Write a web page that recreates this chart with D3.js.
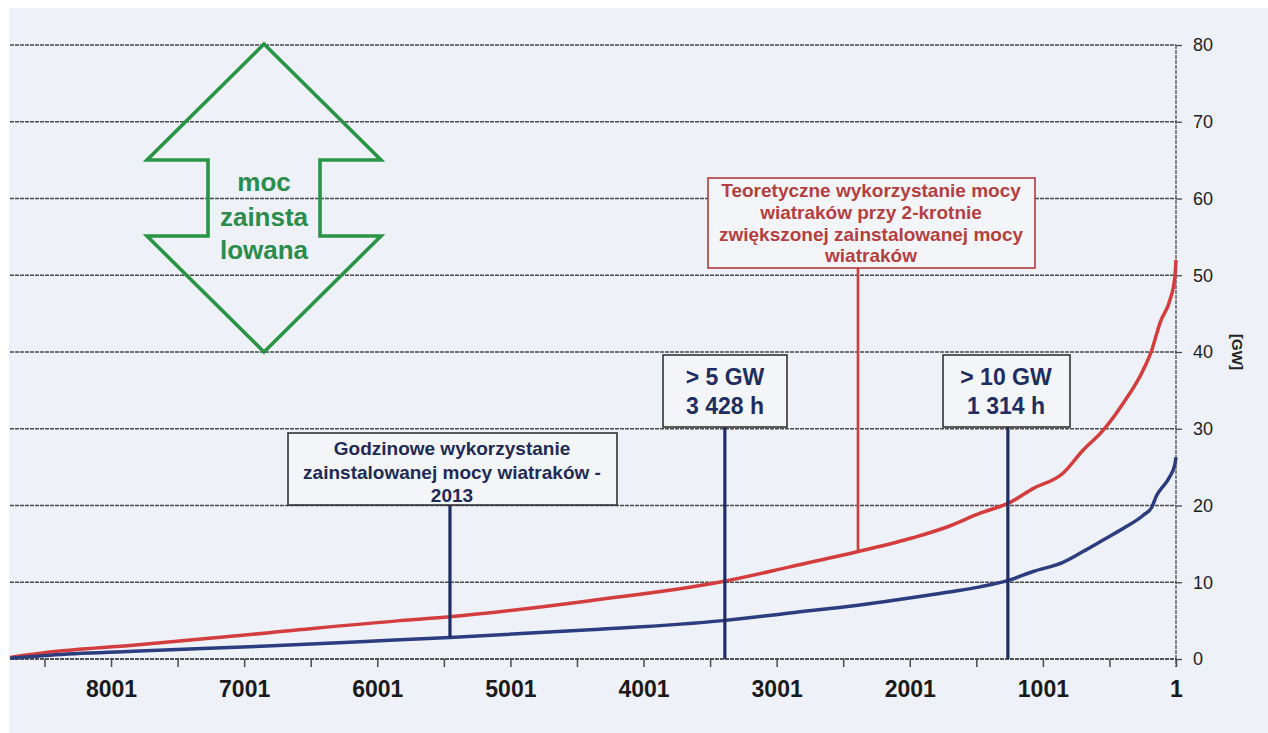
<!DOCTYPE html>
<html>
<head>
<meta charset="utf-8">
<script src="https://cdn.jsdelivr.net/npm/d3@7"></script>
<style>
  html, body { margin: 0; padding: 0; background: #ffffff; }
  svg { display: block; font-family: "Liberation Sans", Arial, sans-serif; }
</style>
</head>
<body>
<svg id="chart" width="1268" height="733"></svg>
<script>
// ---------------- DATA ----------------
// hours of the year (sorted load-duration curve), from 8760 down to 1
const hours = [8760, 8460, 7836, 6829, 5830, 5455, 4403, 3404, 2901, 2390, 1977, 1721, 1473, 1248, 1075, 850, 700, 549, 399, 249, 182, 144, 121, 46, 9, 1];
// actual wind power 2013 [GW]
const windActual = [0.1, 0.5, 1.0, 1.7, 2.5, 2.8, 3.8, 5.0, 6.0, 7.0, 8.0, 8.7, 9.4, 10.3, 11.4, 12.6, 14.0, 15.5, 17.0, 18.7, 19.8, 21.4, 22.0, 23.8, 25.4, 26.3];
// theoretical wind power with doubled installed capacity [GW]
const windDoubled = [0.2, 0.9, 1.8, 3.4, 5.0, 5.5, 7.6, 10.1, 12.0, 14.0, 15.8, 17.2, 19.0, 20.4, 22.2, 24.2, 27.2, 29.8, 33.3, 37.6, 40.3, 42.5, 43.8, 46.8, 49.8, 52.0];

const yTicks = [0, 10, 20, 30, 40, 50, 60, 70, 80];
const xTicks = [8501, 8001, 7501, 7001, 6501, 6001, 5501, 5001, 4501, 4001, 3501, 3001, 2501, 2001, 1501, 1001, 501, 1];
const xTickLabels = [8001, 7001, 6001, 5001, 4001, 3001, 2001, 1001, 1];

const yAxisTitle = "[GW]";
const arrowText = ["moc", "zainsta", "lowana"];
const redBoxText = ["Teoretyczne wykorzystanie mocy", "wiatraków przy 2-krotnie", "zwiększonej zainstalowanej mocy", "wiatraków"];
const blueBoxText = ["Godzinowe wykorzystanie", "zainstalowanej mocy wiatraków -", "2013"];
const box5Text = ["> 5 GW", "3 428 h"];
const box10Text = ["> 10 GW", "1 314 h"];
// hours at which the annotation leader lines are drawn
const leaderHours = { blue: 5455, red: 2390, gw5: 3390, gw10: 1264 };
// value at lower end of leader lines
const leaderEnds = { blue: 2.8, red: 14.0, gw5: 0, gw10: 0 };

// ---------------- LAYOUT ----------------
const W = 1268, H = 733;
const plotLeft = 10, plotRight = 1176, plotTop = 45, plotBottom = 659;

const svg = d3.select("#chart");

svg.append("rect").attr("x", 0).attr("y", 0).attr("width", W).attr("height", H).attr("fill", "#ffffff");
svg.append("rect").attr("x", 9).attr("y", 8).attr("width", W - 9).attr("height", H - 8).attr("fill", "#eef1f7");

const x = d3.scaleLinear().domain([8760, 1]).range([plotLeft, plotRight]);
const y = d3.scaleLinear().domain([0, 80]).range([plotBottom, plotTop]);

const gridColor = "#4a4a4a";

// gridlines
svg.append("g").selectAll("line").data(yTicks).join("line")
  .attr("x1", plotLeft).attr("x2", plotRight)
  .attr("y1", d => y(d)).attr("y2", d => y(d))
  .attr("stroke", gridColor).attr("stroke-width", 1.3)
  .attr("stroke-dasharray", "4,1");

// right y axis
const yAxis = d3.axisRight(y).tickValues(yTicks).tickSize(6).tickPadding(11);
const gy = svg.append("g").attr("transform", `translate(${plotRight},0)`).call(yAxis);
gy.select(".domain").remove();
gy.append("line").attr("x1", 0).attr("x2", 0).attr("y1", plotTop).attr("y2", plotBottom + 8)
  .attr("stroke", gridColor).attr("stroke-width", 1.3).attr("stroke-dasharray", "4,1");
gy.selectAll(".tick line").attr("stroke", gridColor).attr("stroke-width", 1.3);
gy.selectAll(".tick text").attr("font-size", 18).attr("fill", "#222").attr("font-family", "Liberation Sans, Arial, sans-serif");

svg.append("text")
  .attr("transform", `translate(1236,${y(40)}) rotate(90)`)
  .attr("text-anchor", "middle").attr("dominant-baseline", "middle")
  .attr("font-size", 15).attr("font-weight", "bold").attr("fill", "#222")
  .text(yAxisTitle);

// bottom x axis
const xAxis = d3.axisBottom(x).tickValues(xTicks).tickSize(8).tickPadding(14)
  .tickFormat(d => xTickLabels.includes(d) ? String(d) : "");
const gx = svg.append("g").attr("transform", `translate(0,${plotBottom})`).call(xAxis);
gx.select(".domain").remove();
gx.append("line").attr("x1", plotLeft).attr("x2", plotRight).attr("y1", 0).attr("y2", 0)
  .attr("stroke", gridColor).attr("stroke-width", 1.3).attr("stroke-dasharray", "4,1");
gx.selectAll(".tick line").attr("stroke", gridColor).attr("stroke-width", 1.5);
gx.selectAll(".tick text").attr("font-size", 23).attr("font-weight", "bold").attr("fill", "#1a1a1a")
  .attr("font-family", "Liberation Sans, Arial, sans-serif");

// ---------------- SERIES ----------------
const line = d3.line().x(d => x(d[0])).y(d => y(d[1])).curve(d3.curveMonotoneX);
const dataBlue = hours.map((h, i) => [h, windActual[i]]);
const dataRed = hours.map((h, i) => [h, windDoubled[i]]);

svg.append("path").datum(dataRed).attr("d", line)
  .attr("fill", "none").attr("stroke", "#d43d3d").attr("stroke-width", 3.5).attr("stroke-linejoin", "round");
svg.append("path").datum(dataBlue).attr("d", line)
  .attr("fill", "none").attr("stroke", "#2b3d7e").attr("stroke-width", 3.5).attr("stroke-linejoin", "round");

// ---------------- ANNOTATIONS ----------------
function box(x0, y0, w, h, stroke, sw) {
  svg.append("rect").attr("x", x0).attr("y", y0).attr("width", w).attr("height", h)
    .attr("fill", "#f3f5f9").attr("stroke", stroke).attr("stroke-width", sw);
}
function lines(textArr, cx, baselines, size, color) {
  textArr.forEach((t, i) => {
    svg.append("text").attr("x", cx).attr("y", baselines[i]).attr("text-anchor", "middle")
      .attr("font-size", size).attr("font-weight", "bold").attr("fill", color).text(t);
  });
}
function leader(key, topY, color, w) {
  svg.append("line")
    .attr("x1", x(leaderHours[key])).attr("x2", x(leaderHours[key]))
    .attr("y1", topY).attr("y2", y(leaderEnds[key]))
    .attr("stroke", color).attr("stroke-width", w);
}

// red leader + box
leader("red", 268, "#d23b3b", 2.6);
box(708, 178, 327, 90, "#b23a3a", 1.6);
lines(redBoxText, 871, [197, 219, 241, 262], 19, "#b33f3f");

// blue "Godzinowe" leader + box
leader("blue", 505, "#1f2d66", 3.2);
box(288, 433, 329, 72, "#333", 1.6);
lines(blueBoxText, 452, [455, 479, 502], 19, "#1f2a55");

// >5 GW
leader("gw5", 427, "#1f2d66", 3.2);
box(663, 355, 124, 72, "#333", 1.6);
lines(box5Text, 725, [385, 414], 23, "#1f2d60");

// >10 GW
leader("gw10", 427, "#1f2d66", 3.2);
box(943, 355, 127, 72, "#333", 1.6);
lines(box10Text, 1006, [385, 414], 23, "#1f2d60");

// green double arrow "moc zainstalowana"
const cx = 264, tipT = 44, tipB = 352, hy1 = 160, hy2 = 236, wing = 117, body = 56;
const arrowPts = [
  [cx, tipT], [cx + wing, hy1], [cx + body, hy1], [cx + body, hy2], [cx + wing, hy2],
  [cx, tipB], [cx - wing, hy2], [cx - body, hy2], [cx - body, hy1], [cx - wing, hy1]
];
svg.append("polygon").attr("points", arrowPts.map(p => p.join(",")).join(" "))
  .attr("fill", "none").attr("stroke", "#2a9446").attr("stroke-width", 3.6).attr("stroke-linejoin", "miter");
lines(arrowText, cx, [191, 226, 259], 26, "#2b8c4c");
</script>
</body>
</html>
